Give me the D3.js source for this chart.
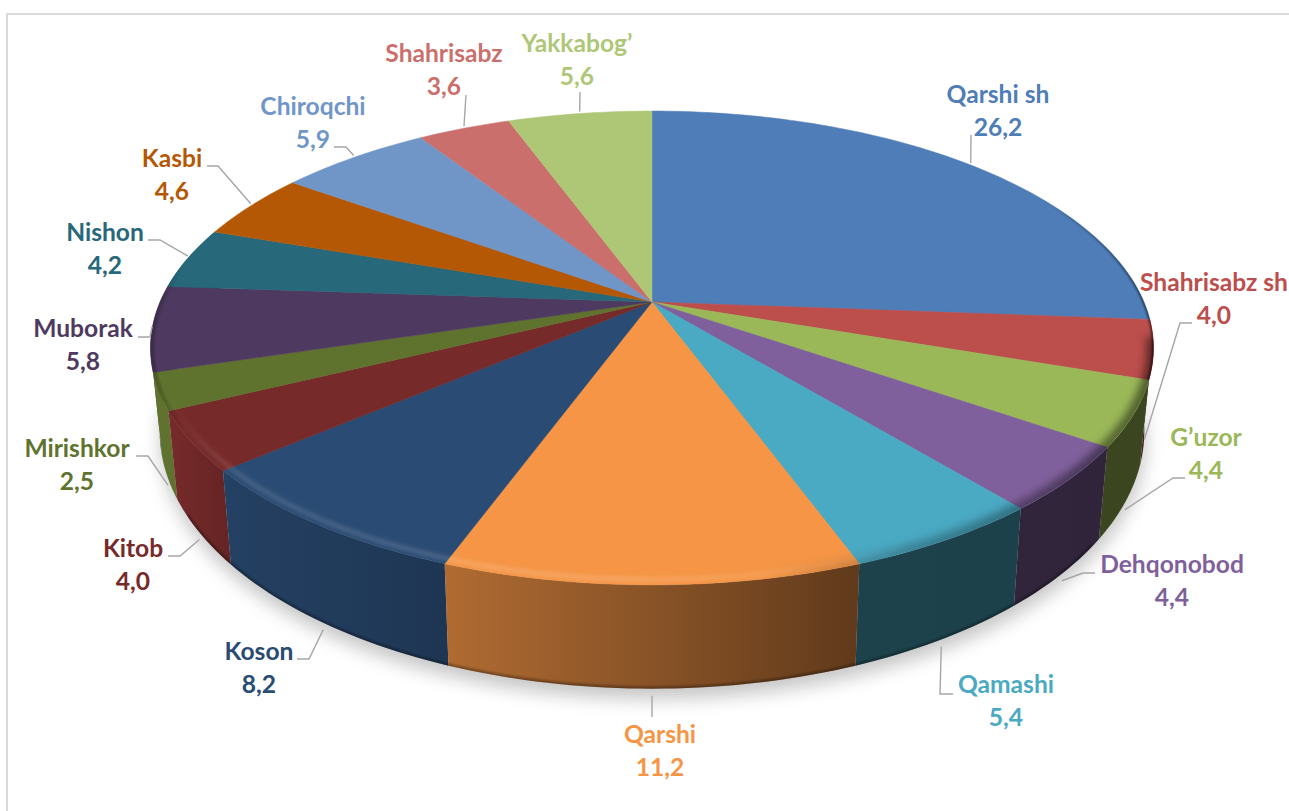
<!DOCTYPE html>
<html>
<head>
<meta charset="utf-8">
<script src="https://cdn.jsdelivr.net/npm/d3@7"></script>
<style>
  html, body { margin: 0; padding: 0; background: #fff; overflow: hidden; }
  svg { display: block; }
  text { font-family: Lato, "Open Sans", sans-serif; font-weight: 700; font-size: 24.6px; text-anchor: middle; }
</style>
</head>
<body>
<div id="chart"></div>
<script>
const width = 1289;
const height = 811;

const districts = ["Qarshi sh", "Shahrisabz sh", "G’uzor", "Dehqonobod", "Qamashi", "Qarshi", "Koson",
    "Kitob", "Mirishkor", "Muborak", "Nishon", "Kasbi", "Chiroqchi", "Shahrisabz", "Yakkabog’"];
const shares = [26.2, 4.0, 4.4, 4.4, 5.4, 11.2, 8.2, 4.0, 2.5, 5.8, 4.2, 4.6, 5.9, 3.6, 5.6];
const colors = ["#4e7db7", "#bc4e4c", "#9bb858", "#7f609c", "#4aa9c3", "#f59545", "#2a4b73",
    "#772a2a", "#60732e", "#4e3a60", "#27687a", "#b45805", "#7096c8", "#cb6f6d", "#aec777"];

// label layout: centre x, baseline of the name line
const labelX = [998, 1214, 1206, 1172, 1006, 660, 259, 133, 77, 83, 105, 172, 313, 444, 577];
const labelY = [103, 291, 446, 573, 693, 743, 660, 557, 457, 337, 241, 167, 115, 62, 52];
// leader lines: start next to the label, then the elbow
const leaderStart = [[971, 135], [1192, 323], [1185, 478], [1095, 573], [953, 694], [652, 717], [297, 659],
    [168, 556], [136, 456], [138, 337], [148, 240], [207, 166], [334, 147], [466, 95], [580, 92]];
const leaderElbow = [null, [1180, 323], [1173, 478], [1083, 573], [940, 694], null, [309, 659],
    [180, 556], [148, 456], [150, 337], [160, 240], [218, 166], [346, 147], null, null];

// side shading from left to right: [x, brightness]
const sideShade = [[170, 1.0], [230, 0.85], [447, 0.72], [860, 0.39], [1150, 0.38]];

const cx = 652;
const persp = 0.194;
const topPlane = {rx: 492, ry: 228, cy: 302};
const basePlane = {rx: 483, ry: 248, cy: 381};

// circle point (angle clockwise from 12 o'clock) to the screen, with perspective
function project(a, plane, r = 1) {
    const u = Math.sin(a) * r, v = -Math.cos(a) * r;
    const w = 1 - persp * v;
    return [cx + plane.rx * u / w, plane.cy + plane.ry * v / w];
}

function arcPoints(a0, a1, plane, r = 1) {
    const n = Math.max(2, Math.ceil((a1 - a0) / 0.02));
    return d3.range(n + 1).map(i => project(a0 + (a1 - a0) * i / n, plane, r));
}

const line = d3.line();
const color = d3.scaleOrdinal(districts, colors);
const slices = d3.pie().sort(null).value(d => d.share)
    (districts.map((name, i) => ({name, share: shares[i], i})));
const full = Math.PI * 2;

const svg = d3.select("#chart")
    .append("svg")
    .attr("width", width)
    .attr("height", height)
    .attr("viewBox", [0, 0, width, height]);

const defs = svg.append("defs");

function blur(id, std) {
    defs.append("filter").attr("id", id)
        .attr("x", "-10%").attr("y", "-10%").attr("width", "120%").attr("height", "120%")
        .append("feGaussianBlur").attr("stdDeviation", std);
}
blur("shadowBlur", 9);
blur("softBlur", 1.2);
blur("lightBlur", 2.2);
blur("wideBlur", 4);

function hGradient(id, stops) {
    defs.append("linearGradient").attr("id", id)
        .attr("gradientUnits", "userSpaceOnUse")
        .attr("x1", 150).attr("x2", 1150).attr("y1", 0).attr("y2", 0)
        .selectAll("stop").data(stops).join("stop")
        .attr("offset", d => (d[0] - 150) / 1000)
        .attr("stop-color", d => d[1])
        .attr("stop-opacity", d => d[2]);
}
slices.forEach(s => {
    const c = d3.rgb(color(s.data.name));
    hGradient("side" + s.data.i, sideShade.map(([x, k]) =>
        [x, d3.rgb(c.r * k, c.g * k, c.b * k).formatHex(), 1]));
});
hGradient("rimLight", [[170, "#fff", 0], [240, "#fff", 0.16], [600, "#fff", 0.2], [860, "#fff", 0.06], [930, "#fff", 0]]);
hGradient("rimDark", [[760, "#000", 0], [900, "#000", 0.22], [1150, "#000", 0.5]]);
hGradient("rimDarkLeft", [[150, "#000", 0.25], [185, "#000", 0]]);
hGradient("rimEdge", [[1040, "#000", 0], [1150, "#000", 0.6]]);

defs.append("clipPath").attr("id", "topClip").append("path")
    .attr("d", line(arcPoints(0, full, topPlane)) + "Z");
defs.append("clipPath").attr("id", "baseClip").append("path")
    .attr("d", line(arcPoints(0, full, basePlane)) + "Z");

// chart frame, only the top and left edges show
svg.append("path")
    .attr("d", `M7,${height}V14H${width}`)
    .attr("fill", "none")
    .attr("stroke", "#d9d9d9")
    .attr("stroke-width", 2);

// soft shadow under the disc
svg.append("path")
    .attr("d", line(arcPoints(0, full, basePlane).map(p => [p[0] + 1, p[1] + 10])) + "Z")
    .attr("fill", "#8c8c8c")
    .attr("opacity", 0.5)
    .attr("filter", "url(#shadowBlur)");

// side walls, back to front
const sides = slices
    .filter(s => -Math.cos((s.startAngle + s.endAngle) / 2) > -0.4)
    .sort((a, b) => -Math.cos((a.startAngle + a.endAngle) / 2) + Math.cos((b.startAngle + b.endAngle) / 2));

svg.append("g").selectAll("path")
    .data(sides)
    .join("path")
    .attr("d", s => line(arcPoints(s.startAngle, s.endAngle, topPlane)
        .concat(arcPoints(s.startAngle, s.endAngle, basePlane).reverse())) + "Z")
    .attr("fill", s => `url(#side${s.data.i})`);

// darker lip along the lower edge
svg.append("g").attr("clip-path", "url(#baseClip)").append("path")
    .attr("d", line(arcPoints(2.2, 4.2, basePlane, 1)))
    .attr("fill", "none")
    .attr("stroke", "#000")
    .attr("stroke-opacity", 0.3)
    .attr("stroke-width", 5)
    .attr("filter", "url(#softBlur)");

// top surface
svg.append("g").selectAll("path")
    .data(slices)
    .join("path")
    .attr("d", s => line([project(0, topPlane, 0)]
        .concat(arcPoints(s.startAngle, s.endAngle, topPlane))) + "Z")
    .attr("fill", s => color(s.data.name))
    .attr("stroke", s => color(s.data.name))
    .attr("stroke-width", 0.5);

// rounded rim: dark on the right, light on the left and front
const rim = svg.append("g").attr("clip-path", "url(#topClip)").attr("fill", "none");
rim.append("path")
    .attr("d", line(arcPoints(1.72, 5.0, topPlane, 1)))
    .attr("stroke", "url(#rimDark)")
    .attr("stroke-width", 14)
    .attr("filter", "url(#wideBlur)");
rim.append("path")
    .attr("d", line(arcPoints(0.9, 1.9, topPlane, 1)))
    .attr("stroke", "url(#rimEdge)")
    .attr("stroke-width", 3)
    .attr("filter", "url(#softBlur)");
rim.append("path")
    .attr("d", line(arcPoints(3.6, 5.2, topPlane, 1)))
    .attr("stroke", "url(#rimDarkLeft)")
    .attr("stroke-width", 8)
    .attr("filter", "url(#softBlur)");
rim.append("path")
    .attr("d", line(arcPoints(2.7, 4.3, topPlane, 0.985)))
    .attr("stroke", "url(#rimLight)")
    .attr("stroke-width", 4)
    .attr("filter", "url(#lightBlur)");

// leader lines end at the rim, on the middle of their slice
function leaderEnd(s) {
    const a = (s.startAngle + s.endAngle) / 2;
    const front = -Math.cos(a) > 0.15;
    const p = project(a, front ? basePlane : topPlane);
    return front ? [p[0], p[1] + 7] : [p[0], p[1] - 2];
}

svg.append("g").selectAll("path")
    .data(slices)
    .join("path")
    .attr("d", s => {
        const i = s.data.i;
        const pts = [leaderStart[i]];
        if (leaderElbow[i]) pts.push(leaderElbow[i]);
        pts.push(leaderEnd(s));
        return line(pts);
    })
    .attr("fill", "none")
    .attr("stroke", "#a6a6a6")
    .attr("stroke-width", 1.4);

// labels: name with the value below
const labels = svg.append("g").selectAll("text")
    .data(slices)
    .join("text")
    .attr("fill", s => color(s.data.name))
    .attr("y", s => labelY[s.data.i]);

labels.append("tspan")
    .attr("x", s => labelX[s.data.i])
    .text(s => s.data.name);

labels.append("tspan")
    .attr("x", s => labelX[s.data.i])
    .attr("dy", 32.5)
    .text(s => d3.format(".1f")(s.data.share).replace(".", ","));
</script>
</body>
</html>
